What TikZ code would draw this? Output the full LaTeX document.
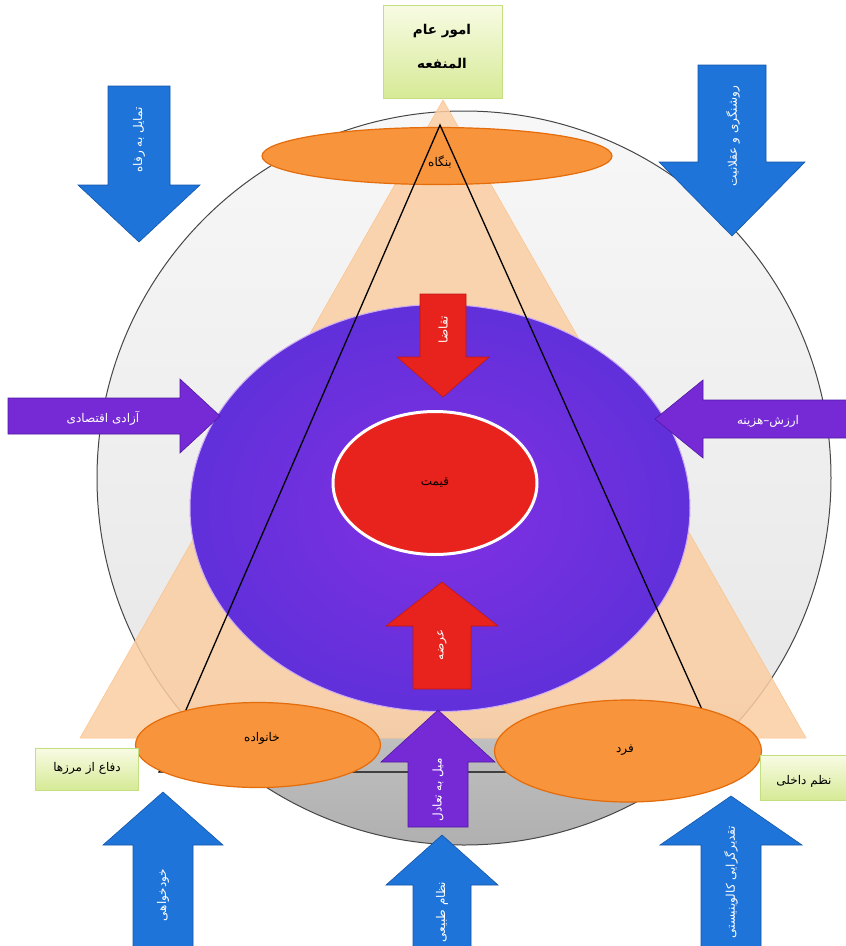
\documentclass[tikz,border=0pt]{standalone}
\usepackage{fontspec}
\usetikzlibrary{shapes.geometric}
\TeXXeTstate=1
\newfontfamily\arabicfont[Script=Arabic]{DejaVu Sans}
\newcommand\fa[1]{{\arabicfont\beginR #1\endR}}
\definecolor{bluearrow}{RGB}{30,116,216}
\definecolor{bluedark}{RGB}{20,85,170}
\definecolor{purplearrow}{RGB}{118,42,214}
\definecolor{purpledark}{RGB}{80,25,160}
\definecolor{redfill}{RGB}{232,34,28}
\definecolor{reddark}{RGB}{190,25,20}
\definecolor{orangefill}{RGB}{247,148,60}
\definecolor{orangedark}{RGB}{228,108,10}
\definecolor{peach}{RGB}{251,206,162}
\definecolor{greentop}{RGB}{248,251,228}
\definecolor{greenbot}{RGB}{214,234,150}
\definecolor{greenline}{RGB}{196,222,130}
\definecolor{purpin}{RGB}{130,48,226}
\definecolor{purpout}{RGB}{96,48,218}
\definecolor{cgA}{RGB}{176,176,176}
\definecolor{cgB}{RGB}{190,190,190}
\definecolor{cgC}{RGB}{232,232,232}
\definecolor{cgD}{RGB}{247,247,247}
\pgfdeclareverticalshading{circshade}{100bp}{color(0bp)=(cgA); color(25bp)=(cgA); color(32bp)=(cgB); color(35bp)=(cgC); color(75bp)=(cgD); color(100bp)=(cgD)}
% vertical arrow: style, cx, tip y, head-base y, end y, shaft half, head half
\newcommand\varrow[7]{\path[#1] (#2-#6,#5) -- (#2-#6,#4) -- (#2-#7,#4) -- (#2,#3) -- (#2+#7,#4) -- (#2+#6,#4) -- (#2+#6,#5) -- cycle;}
% horizontal arrow: style, cy, tip x, head-base x, end x, shaft half, head half
\newcommand\harrow[7]{\path[#1] (#5,#2-#6) -- (#4,#2-#6) -- (#4,#2-#7) -- (#3,#2) -- (#4,#2+#7) -- (#4,#2+#6) -- (#5,#2+#6) -- cycle;}
\begin{document}
\begin{tikzpicture}[x=1pt,y=-1pt,
  orangeell/.style={ellipse, draw=orangedark, line width=1.2pt, fill=orangefill, inner sep=0},
  greenbox/.style={rectangle, draw=greenline, line width=0.8pt, top color=greentop, bottom color=greenbot, inner sep=0},
  blueA/.style={fill=bluearrow, draw=bluedark, line width=0.6pt},
  purpA/.style={fill=purplearrow, draw=purpledark, line width=0.6pt},
  redA/.style={fill=redfill, draw=reddark, line width=0.6pt},
  wtxt/.style={text=white, font=\fontsize{12}{14}\selectfont, inner sep=0},
  ktxt/.style={text=black, font=\fontsize{12}{14}\selectfont, inner sep=0},
  btxt/.style={text=black, font=\fontsize{13.5}{15}\selectfont\bfseries, inner sep=0}]
\useasboundingbox (0,0) rectangle (846,946);
\fill[white] (0,0) rectangle (846,946);
% big circle
\node[circle, minimum size=734pt, inner sep=0, draw=gray!55!black, line width=1pt, shading=circshade] (circ) at (464,478) {};
% peach triangle
\path[fill=peach, fill opacity=0.85, draw=peach!85!orange, line width=0.5pt] (443,100) -- (80,738) -- (806,738) -- cycle;
% top ellipse
\node[orangeell, minimum width=350pt, minimum height=57pt] (firm) at (437,156) {};
% purple ellipse
\node[ellipse, minimum width=500pt, minimum height=407pt, inner sep=0, inner color=purpin, outer color=purpout, draw=purpin!40!white, line width=1pt] (market) at (440,508) {};
% red ellipse
\node[ellipse, minimum width=204pt, minimum height=143pt, inner sep=0, fill=redfill, draw=white, line width=3pt] (price) at (435,483) {};
% black triangle
\coordinate (tA) at (440,125);
\coordinate (tB) at (159,772);
\coordinate (tC) at (730,772);
\draw[black, line width=1.3pt] (tA) -- (tB) -- (tC) -- cycle;
% red arrows
\varrow{redA}{443}{397}{357}{294}{23}{46}
\varrow{redA}{442}{582}{626}{689}{29}{56}
% bottom ellipses
\node[orangeell, minimum width=245pt, minimum height=85pt] (family) at (258,745) {};
\node[orangeell, minimum width=267pt, minimum height=102pt] (person) at (628,751) {};
% purple arrows
\varrow{purpA}{438}{710}{762}{827}{30}{57}
\harrow{purpA}{416}{220}{180}{8}{18}{37}
\harrow{purpA}{419}{655}{703}{852}{19}{39}
% blue arrows
\varrow{blueA}{139}{242}{185}{86}{31}{61}
\varrow{blueA}{732}{236}{162}{65}{34}{73}
\varrow{blueA}{163}{792}{845}{950}{30}{60}
\varrow{blueA}{442}{835}{885}{950}{29}{56}
\varrow{blueA}{731}{796}{845}{950}{30}{71}
% green boxes
\node[greenbox, minimum width=119pt, minimum height=93pt] (publicbox) at (442.5,51.5) {};
\node[greenbox, minimum width=103pt, minimum height=42pt] (defbox) at (86.5,769) {};
\node[greenbox, minimum width=92pt, minimum height=45pt] (orderbox) at (806,777.5) {};
% texts
\node[btxt] (t1) at (442,31) {\fa{امور عام}};
\node[btxt] (t2) at (442,64) {\fa{المنفعه}};
\node[ktxt] (tfirm) at (440,162) {\fa{بنگاه}};
\node[wtxt, rotate=90] (trefah) at (139,140) {\fa{تمایل به رفاه}};
\node[wtxt, rotate=90] (troshan) at (733,136) {\fa{روشنگری و عقلانیت}};
\node[wtxt] (tazadi) at (103,418) {\fa{آزادی اقتصادی}};
\node[wtxt] (tarzesh) at (768,421) {\fa{ارزش–هزینه}};
\node[wtxt, rotate=90] (taghaza) at (443,330) {\fa{تقاضا}};
\node[ktxt] (tprice) at (435,483) {\fa{قیمت}};
\node[wtxt, rotate=90] (tarzeh) at (442,645) {\fa{عرضه}};
\node[ktxt] (tfamily) at (262,738) {\fa{خانواده}};
\node[ktxt] (tperson) at (625,750) {\fa{فرد}};
\node[ktxt] (tdef) at (87,768) {\fa{دفاع از مرزها}};
\node[ktxt] (torder) at (804,781) {\fa{نظم داخلی}};
\node[wtxt, rotate=90] (tmeyl) at (438,790) {\fa{میل به تعادل}};
\node[wtxt, rotate=90] (tkhod) at (163,895) {\fa{خودخواهی}};
\node[wtxt, rotate=90] (tnezam) at (442,912) {\fa{نظام طبیعی}};
\node[wtxt, rotate=90] (ttaghdir) at (731,882) {\fa{تقدیرگرایی کالوینیستی}};
\end{tikzpicture}
\end{document}
